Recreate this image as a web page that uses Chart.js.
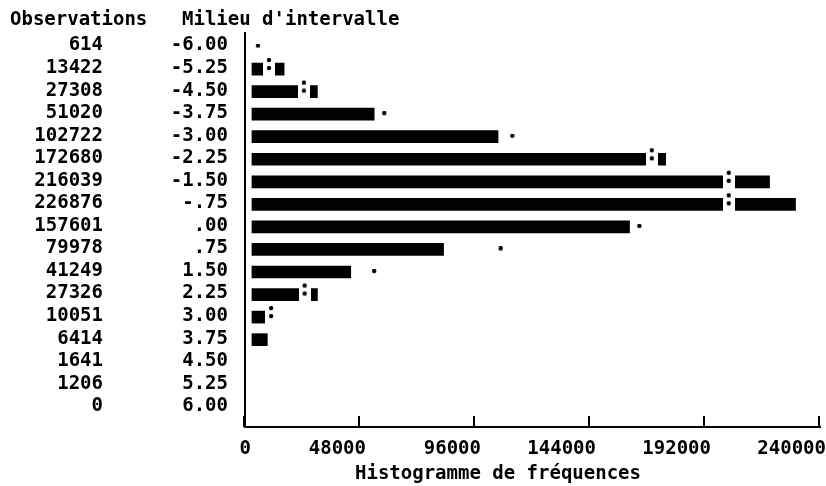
<!DOCTYPE html>
<html><head><meta charset="utf-8">
<script src="https://cdn.jsdelivr.net/npm/chart.js@4"></script>
<style>html,body{margin:0;padding:0;background:#fff;}canvas{display:block;}</style>
</head><body>
<canvas id="c" width="826" height="486"></canvas>
<script>
// ---- data ----
const midpoints = [-6, -5.25, -4.5, -3.75, -3, -2.25, -1.5, -0.75, 0, 0.75, 1.5, 2.25, 3, 3.75, 4.5, 5.25, 6];
const intervalLabels = ['-6.00','-5.25','-4.50','-3.75','-3.00','-2.25','-1.50','-.75','.00','.75','1.50','2.25','3.00','3.75','4.50','5.25','6.00'];
const observations = [614, 13422, 27308, 51020, 102722, 172680, 216039, 226876, 157601, 79978, 41249, 27326, 10051, 6414, 1641, 1206, 0];
const normalCurve = [2500, 7100, 21700, 55200, 108700, 166900, 199000, 199000, 161700, 103800, 51000, 22000, 8000, null, null, null, null];
const xTicks = [0, 48000, 96000, 144000, 192000, 240000];
const headerObs = 'Observations';
const headerMid = "Milieu d'intervalle";
const xTitle = 'Histogramme de fréquences';

// the original character plot leaves out bars shorter than half a character cell
const HALF_CELL = 2400;

const FONT = {family: '"DejaVu Sans Mono", monospace', size: 19, weight: 'bold'};
const FONT_CSS = 'bold 19px "DejaVu Sans Mono", monospace';

// point markers: ':' (inside a bar, with white gap) and '.' (outside)
function makeColon() {
  const c = document.createElement('canvas'); c.width = 12; c.height = 26;
  const g = c.getContext('2d');
  g.fillStyle = '#fff'; g.fillRect(0, 5.5, 12, 15);
  g.fillStyle = '#000';
  g.beginPath(); g.arc(6, 4, 2.2, 0, Math.PI * 2); g.fill();
  g.beginPath(); g.arc(6, 12, 2.2, 0, Math.PI * 2); g.fill();
  return c;
}
function makeDot() {
  const c = document.createElement('canvas'); c.width = 6; c.height = 6;
  const g = c.getContext('2d');
  g.fillStyle = '#000';
  g.beginPath(); g.arc(3, 2, 2.2, 0, Math.PI * 2); g.fill();
  return c;
}
const colonImg = makeColon();
const dotImg = makeDot();

const headerPlugin = {
  id: 'headers',
  afterDraw(chart) {
    const ctx = chart.ctx;
    ctx.save();
    ctx.font = FONT_CSS;
    ctx.fillStyle = '#000';
    ctx.textBaseline = 'alphabetic';
    ctx.textAlign = 'left';
    ctx.fillText(headerObs, 10, 25);
    ctx.fillText(headerMid, 182, 25);
    ctx.fillText(xTitle, 355, 479);
    // inward tick marks on the frequency axis
    const sx = chart.scales.x;
    const bottom = chart.chartArea.bottom;
    ctx.strokeStyle = '#000';
    ctx.lineWidth = 2;
    sx.ticks.forEach(t => {
      const px = Math.round(sx.getPixelForValue(t.value)) - 1;
      ctx.beginPath();
      ctx.moveTo(px, bottom);
      ctx.lineTo(px, bottom - 11);
      ctx.stroke();
    });
    ctx.restore();
  }
};

const Y_MIN = -6.449, Y_MAX = 6.655;
function yTicks(scale) { scale.ticks = midpoints.map(v => ({value: v})); }

new Chart(document.getElementById('c'), {
  type: 'bar',
  data: {
    datasets: [
      {
        type: 'line',
        indexAxis: 'y',
        showLine: false,
        order: 0,
        xAxisID: 'xb',
        yAxisID: 'y',
        data: midpoints.map((m, i) => ({x: normalCurve[i], y: m})).filter(p => p.x !== null),
        pointRadius: 3,
        pointHoverRadius: 3,
        pointStyle: (ctx) => {
          const p = ctx.raw;
          if (!p) return dotImg;
          const i = midpoints.indexOf(p.y);
          return p.x < observations[i] ? colonImg : dotImg;
        }
      },
      {
        type: 'bar',
        indexAxis: 'y',
        order: 1,
        xAxisID: 'xb',
        yAxisID: 'y',
        data: midpoints.map((m, i) => ({x: observations[i], y: m})),
        backgroundColor: (ctx) => (ctx.raw && ctx.raw.x >= HALF_CELL) ? '#000' : 'rgba(0,0,0,0)',
        borderWidth: 0,
        barThickness: 12
      }
    ]
  },
  options: {
    indexAxis: 'y',
    responsive: false,
    animation: false,
    events: [],
    layout: {padding: {top: 33, left: 0, right: 6, bottom: 0}},
    plugins: {legend: {display: false}, tooltip: {enabled: false}, title: {display: false}},
    scales: {
      xb: {
        type: 'linear', display: false, position: 'bottom',
        min: -2900, max: 237100
      },
      x: {
        type: 'linear', position: 'bottom',
        min: 0, max: 240000,
        afterBuildTicks: (s) => { s.ticks = xTicks.map(v => ({value: v})); },
        afterFit: (s) => { s.height = 59; s.paddingLeft = 0; s.paddingRight = 0; },
        ticks: {
          autoSkip: false, maxRotation: 0, align: 'end', labelOffset: 6, padding: 11,
          color: '#000', font: FONT,
          callback: (v) => String(v)
        },
        grid: {display: false, drawTicks: false},
        border: {display: true, color: '#000', width: 2}
      },
      y: {
        type: 'linear', position: 'left', reverse: true, weight: 0,
        min: Y_MIN, max: Y_MAX, offset: false,
        afterBuildTicks: yTicks,
        afterFit: (s) => { s.width = 73; s.paddingTop = 0; s.paddingBottom = 0; },
        ticks: {
          autoSkip: false, padding: 17, labelOffset: -1, color: '#000', font: FONT,
          callback: (v, i) => intervalLabels[i]
        },
        grid: {display: false, drawTicks: false, offset: false},
        border: {display: true, color: '#000', width: 2}
      },
      yObs: {
        type: 'linear', position: 'left', reverse: true, weight: 1,
        min: Y_MIN, max: Y_MAX, offset: false,
        afterBuildTicks: yTicks,
        afterFit: (s) => { s.width = 172; s.paddingTop = 0; s.paddingBottom = 0; },
        ticks: {
          autoSkip: false, padding: 69, labelOffset: -1, color: '#000', font: FONT,
          callback: (v, i) => String(observations[i])
        },
        grid: {display: false, drawTicks: false, offset: false},
        border: {display: false}
      }
    }
  },
  plugins: [headerPlugin]
});
</script>
</body></html>
